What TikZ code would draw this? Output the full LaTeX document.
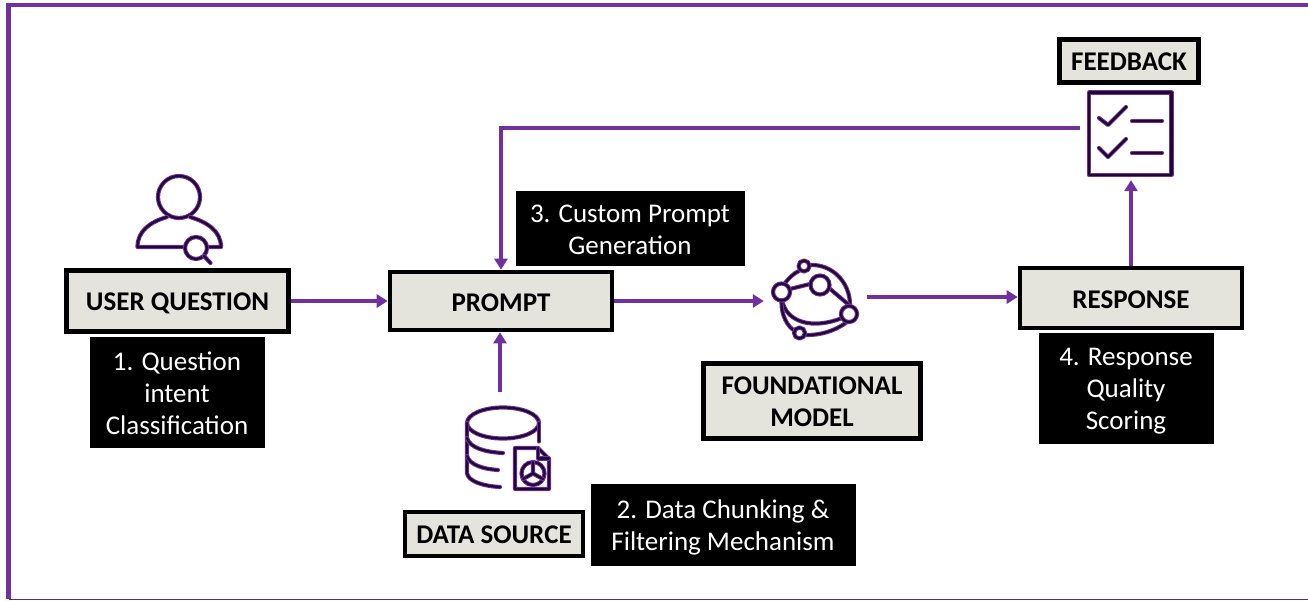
\documentclass[tikz,border=0pt]{standalone}
\usepackage{fontspec}
\setmainfont{Carlito}
\usetikzlibrary{arrows.meta,calc}
\definecolor{pur}{HTML}{7030A0}
\definecolor{boxfill}{HTML}{E4E4DC}
\definecolor{icondark}{HTML}{1E0A30}
\tikzset{
  x=1pt,y=-1pt,
  titlebox/.style={draw=black,fill=boxfill,line width=4.6pt,inner sep=0pt,font=\fontsize{27}{32}\selectfont\bfseries,align=center},
  capbox/.style={fill=black,text=white,inner sep=0pt,font=\fontsize{27}{32}\selectfont,align=center},
  conn/.style={draw=pur,line width=4pt,-{Triangle[length=11pt,width=13pt]}},
  anchorpt/.style={inner sep=0pt,minimum size=0pt},
  halo/.style={draw=pur,line width=4.2pt,line cap=round,line join=round},
  ink/.style={draw=icondark,line width=2.2pt,line cap=round,line join=round},
}
\newcommand{\iconpath}[1]{\draw[halo] #1; \draw[ink] #1;}
\newcommand{\lowered}[2]{\raisebox{-#1}[\height][\depth]{\begin{tabular}{@{}c@{}}#2\end{tabular}}}
\begin{document}
\begin{tikzpicture}
\useasboundingbox (0,0) rectangle (1308,600);
\fill[white] (0,0) rectangle (1308,600);
% frame
\draw[draw=pur,line width=4.5pt] (1308,5) -- (8.5,5) -- (8.5,599);
\draw[draw=pur!80!black,line width=1.5pt] (8.5,599.3) -- (1308,599.3);
% title boxes
\node[titlebox,minimum width=222pt,minimum height=61pt] (user) at (177.5,301) {\lowered{3pt}{USER QUESTION}};
\node[titlebox,minimum width=222pt,minimum height=58pt] (prompt) at (501,301) {\lowered{4pt}{PROMPT}};
\node[titlebox,minimum width=222pt,minimum height=60pt] (response) at (1131,298) {\lowered{4pt}{RESPONSE}};
\node[titlebox,minimum width=217pt,minimum height=75pt] (model) at (812,401) {\lowered{3pt}{FOUNDATIONAL\\MODEL}};
\node[titlebox,minimum width=178pt,minimum height=44pt] (source) at (494,534) {\lowered{3pt}{DATA SOURCE}};
\node[titlebox,minimum width=139pt,minimum height=43pt] (feedback) at (1129,61) {\lowered{3.5pt}{FEEDBACK}};
% captions
\node[capbox,minimum width=175pt,minimum height=111pt] (c1) at (177,392.5) {\lowered{4pt}{1. Question\\intent\\Classification}};
\node[capbox,minimum width=229pt,minimum height=75pt] (c3) at (630,228.5) {\lowered{4pt}{3. Custom Prompt\\Generation}};
\node[capbox,minimum width=265pt,minimum height=82pt] (c2) at (723,525) {\lowered{3pt}{2. Data Chunking \&\\Filtering Mechanism}};
\node[capbox,minimum width=175pt,minimum height=111pt] (c4) at (1126,388) {\lowered{3pt}{4. Response\\Quality\\Scoring}};
% icon anchors
\node[anchorpt] (modelin) at (764,301) {};
\node[anchorpt] (modelout) at (867,297) {};
\node[anchorpt] (datatop) at (500,392) {};
\node[anchorpt] (fbbottom) at (1131,180) {};
\node[anchorpt] (fbleft) at (1080,128) {};
% connectors
\draw[conn] (user.east) -- (prompt.west);
\draw[conn] (prompt.east) -- (modelin);
\draw[conn] (modelout) -- (modelout -| response.west);
\draw[conn] (datatop) -- (datatop |- prompt.south);
\draw[conn] (response.north -| fbbottom) -- (fbbottom);
\draw[conn] (fbleft) -- (fbleft -| prompt.north) -- (prompt.north);
% user icon
\iconpath{(179,197) circle (21)}
\iconpath{(167,217) .. controls (150,222) and (137.5,231) .. (137.5,247) -- (184,247)}
\iconpath{(190,217) .. controls (207,222) and (221,231) .. (221,247) -- (207,247)}
\iconpath{(196,248) circle (11)}
\iconpath{(204,256) -- (210.5,263)}
% model icon
\iconpath{(785,283) .. controls (789,278) and (794,273) .. (799,271)}
\iconpath{(810,265) .. controls (832,264) and (850,282) .. (850,305)}
\iconpath{(790,289) -- (810,284)}
\iconpath{(829,288) -- (849,305)}
\iconpath{(782,300) .. controls (786,322) and (812,330) .. (842,318)}
\iconpath{(781.5,301) .. controls (781,316) and (788,327) .. (795,331)}
\iconpath{(805,335) .. controls (820,335.5) and (835,331) .. (847,322)}
\iconpath{(781.5,292) circle (8.5)}
\iconpath{(804,266) circle (5.5)}
\iconpath{(820,285) circle (9.5)}
\iconpath{(849,314) circle (8)}
\iconpath{(799.5,333) circle (5.5)}
% database icon
\iconpath{(503,423) ellipse (36 and 15.5)}
\iconpath{(539,423) -- (539,441.5)}
\iconpath{(467,423) -- (467,473) .. controls (468,481) and (482,486) .. (500,487)}
\iconpath{(467,438) .. controls (470,448) and (485,452) .. (503,453)}
\iconpath{(467,456) .. controls (470,465) and (483,469) .. (498,470)}
% document
\iconpath{(515,448) -- (538,448) -- (549,459) -- (549,489) -- (515,489) -- cycle}
\iconpath{(538,448) -- (538,458.5) -- (549,458.5)}
\iconpath{(533,473.5) circle (11.5)}
\iconpath{(533,473.5) -- (533,462) (533,473.5) -- (523,479) (533,473.5) -- (543,479)}
% feedback icon
\iconpath{(1089,92.5) rectangle (1171.5,175)}
\iconpath{(1099,118) -- (1108,125) -- (1126,107)}
\iconpath{(1099,148) -- (1108,157) -- (1126,139)}
\iconpath{(1132,121) -- (1162,121)}
\iconpath{(1132,153) -- (1162,153)}
\end{tikzpicture}
\end{document}
